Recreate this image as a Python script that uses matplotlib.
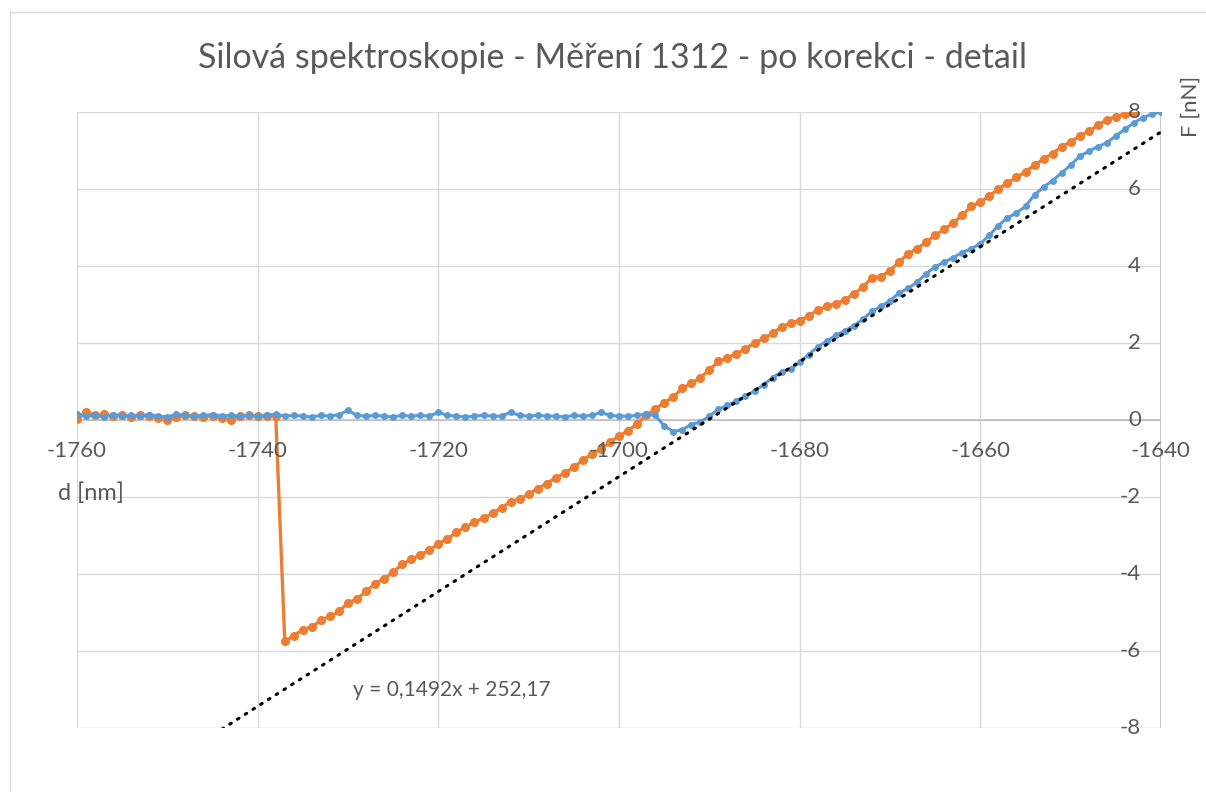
import numpy as np
import matplotlib.pyplot as plt
from matplotlib.patches import Rectangle

# --- data ---
# orange series: flat part and the part after the jump
orange_x_flat = np.arange(-1760, -1737)
orange_y_flat = [0.03, 0.2, 0.12, 0.15, 0.1, 0.14, 0.08, 0.12, 0.1, 0.06,
                 0.0, 0.08, 0.12, 0.1, 0.09, 0.1, 0.05, 0.0, 0.1, 0.12,
                 0.1, 0.1, 0.1]
orange_x_rise = np.arange(-1737, -1642)
orange_y_rise = [-5.75, -5.6, -5.45, -5.38, -5.2, -5.1, -4.97, -4.75, -4.65, -4.45,
                 -4.25, -4.12, -3.95, -3.75, -3.62, -3.5, -3.38, -3.22, -3.08, -2.92,
                 -2.78, -2.65, -2.55, -2.42, -2.28, -2.12, -2.05, -1.93, -1.78, -1.65,
                 -1.5, -1.38, -1.22, -1.05, -0.88, -0.75, -0.58, -0.42, -0.28, -0.1,
                 0.12, 0.28, 0.45, 0.6, 0.82, 0.95, 1.1, 1.3, 1.52, 1.62,
                 1.72, 1.85, 2.0, 2.12, 2.25, 2.42, 2.52, 2.58, 2.7, 2.86,
                 2.95, 3.02, 3.12, 3.28, 3.45, 3.7, 3.72, 3.88, 4.1, 4.32,
                 4.45, 4.62, 4.8, 4.95, 5.12, 5.32, 5.55, 5.66, 5.82, 6.0,
                 6.16, 6.3, 6.45, 6.62, 6.78, 6.92, 7.1, 7.22, 7.38, 7.5,
                 7.65, 7.8, 7.88, 7.95, 8.0]

# blue series
blue_x = np.arange(-1760, -1639)
blue_y = [0.15, 0.1, 0.12, 0.08, 0.14, 0.1, 0.12, 0.1, 0.14, 0.1,
          0.08, 0.15, 0.12, 0.1, 0.12, 0.14, 0.1, 0.12, 0.1, 0.12,
          0.1, 0.12, 0.15, 0.1, 0.12, 0.1, 0.08, 0.12, 0.1, 0.14,
          0.25, 0.12, 0.1, 0.12, 0.1, 0.08, 0.12, 0.1, 0.12, 0.1,
          0.2, 0.12, 0.1, 0.08, 0.1, 0.12, 0.1, 0.1, 0.2, 0.12,
          0.1, 0.12, 0.1, 0.1, 0.08, 0.12, 0.1, 0.12, 0.2, 0.12,
          0.1, 0.1, 0.12, 0.15, 0.12, -0.15, -0.3, -0.25, -0.12, -0.05,
          0.1, 0.28, 0.38, 0.5, 0.62, 0.75, 0.92, 1.1, 1.25, 1.32,
          1.5, 1.7, 1.9, 2.05, 2.2, 2.32, 2.45, 2.62, 2.82, 2.95,
          3.1, 3.3, 3.42, 3.58, 3.8, 3.98, 4.1, 4.22, 4.35, 4.45,
          4.58, 4.8, 5.05, 5.25, 5.38, 5.55, 5.85, 6.05, 6.22, 6.42,
          6.62, 6.85, 6.98, 7.1, 7.2, 7.38, 7.55, 7.72, 7.85, 7.95,
          8.0]

# linear trendline shown on the chart
trend_coef = [0.1492, 252.17]
trend_label = "y = 0,1492x + 252,17"

x_ticks = [-1760, -1740, -1720, -1700, -1680, -1660, -1640]
y_ticks = [-8, -6, -4, -2, 0, 2, 4, 6, 8]

BLUE = "#5B9BD5"
ORANGE = "#ED7D31"
GRID = "#D9D9D9"
TEXT = "#595959"

plt.rcParams['font.family'] = ['Lato', 'DejaVu Sans']

fig = plt.figure(figsize=(12.06, 7.92), dpi=100)
ax = fig.add_axes([77 / 1206, 1 - 728 / 792, (1161 - 77) / 1206, (728 - 112) / 792])

# chart border
fig.patches.append(Rectangle((10 / 1206, -0.1), 1.2, 1 - 12 / 792 + 0.1,
                             transform=fig.transFigure, fill=False,
                             edgecolor="#D9D9D9", lw=1))

ax.set_xlim(-1760, -1640)
ax.set_ylim(-8, 8)

# grid
for xv in x_ticks:
    ax.axvline(xv, color=GRID, lw=1, zorder=0)
for yv in y_ticks:
    ax.axhline(yv, color=GRID, lw=1, zorder=0)
ax.axhline(0, color="#BFBFBF", lw=1.2, zorder=0)
ax.axvline(-1640, color="#BFBFBF", lw=1.2, zorder=0)

for s in ax.spines.values():
    s.set_visible(False)
ax.set_xticks([])
ax.set_yticks([])

# series
ax.plot(blue_x, blue_y, color=BLUE, lw=2.2, marker='o', ms=4, zorder=3)
ax.plot(np.concatenate([orange_x_flat, orange_x_rise]),
        np.concatenate([orange_y_flat, orange_y_rise]),
        color=ORANGE, lw=2.4, marker='o', ms=5.5, zorder=2)

# trendline
tx = np.array([-1760, -1640])
ax.plot(tx, np.polyval(trend_coef, tx), color='black', lw=2.2,
        linestyle=(0, (0.6, 2.4)), dash_capstyle='round', zorder=4)
ax.text(-1729.5, -7.0, trend_label, fontsize=15, color=TEXT,
        ha='left', va='center')

# tick labels (Excel style, axis crosses at 0 and at -1640)
for xv in x_ticks:
    ax.text(xv, -0.8, str(xv), fontsize=16, color=TEXT,
            ha='center', va='center', clip_on=False)
for yv in y_ticks:
    ax.text(-1642.2, yv, str(yv), fontsize=16, color=TEXT,
            ha='right', va='center')

fig.text(0.508, 1 - 58 / 792, "Silová spektroskopie - Měření 1312 - po korekci - detail",
         fontsize=24.5, color=TEXT, ha='center', va='center')
fig.text(1191 / 1206, 1 - 106 / 792, "F [nN]", rotation=90, fontsize=16,
         color=TEXT, ha='center', va='center')
fig.text(91 / 1206, 1 - 493 / 792, "d [nm]", fontsize=17, color=TEXT,
         ha='center', va='center')

fig.savefig("out.png", dpi=100)
